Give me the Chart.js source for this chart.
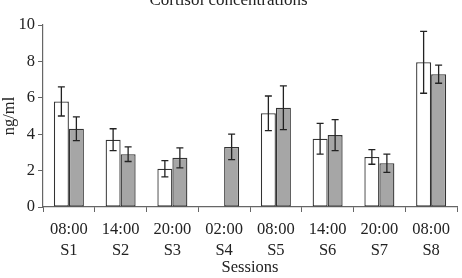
<!DOCTYPE html>
<html>
<head>
<meta charset="utf-8">
<script src="https://cdn.jsdelivr.net/npm/chart.js@4"></script>
<style>
  html, body { margin: 0; padding: 0; background: #fff; }
  #wrap { width: 462px; height: 278px; }
</style>
</head>
<body>
<div id="wrap"><canvas id="myChart" width="462" height="278"></canvas></div>
<script>
// dati
const times = ['08:00', '14:00', '20:00', '02:00', '08:00', '14:00', '20:00', '08:00'];
const sessions = ['S1', 'S2', 'S3', 'S4', 'S5', 'S6', 'S7', 'S8'];
const whiteVals = [5.8, 3.7, 2.1, null, 5.15, 3.75, 2.75, 7.95];
const whiteErr = [0.8, 0.6, 0.45, null, 0.95, 0.85, 0.4, 1.7];
const grayVals = [4.3, 2.9, 2.7, 3.3, 5.45, 3.95, 2.4, 7.3];
const grayErr = [0.65, 0.4, 0.55, 0.7, 1.2, 0.85, 0.5, 0.5];

const labels = times.map((t, i) => [t, sessions[i]]);
const serif = "'Liberation Serif', 'DejaVu Serif', serif";
const ink = '#222';

// barre di errore
const errorBars = {
    id: 'errorBars',
    afterDatasetsDraw(chart) {
        const ctx = chart.ctx;
        const y = chart.scales.y;
        ctx.save();
        ctx.strokeStyle = '#222';
        ctx.lineWidth = 1.3;
        chart.data.datasets.forEach((ds, di) => {
            const meta = chart.getDatasetMeta(di);
            meta.data.forEach((bar, i) => {
                const v = ds.data[i], e = ds.errors[i];
                if (v == null || e == null) return;
                const top = y.getPixelForValue(v + e);
                const bot = y.getPixelForValue(v - e);
                const x = bar.x, w = 3.5;
                ctx.beginPath();
                ctx.moveTo(x, top); ctx.lineTo(x, bot);
                ctx.moveTo(x - w, top); ctx.lineTo(x + w, top);
                ctx.moveTo(x - w, bot); ctx.lineTo(x + w, bot);
                ctx.stroke();
            });
        });
        ctx.restore();
    }
};

const data = {
    labels: labels,
    datasets: [{
        label: 'A',
        data: whiteVals,
        errors: whiteErr,
        backgroundColor: '#ffffff',
        borderColor: '#333',
        borderWidth: 1.3,
        borderSkipped: false
    }, {
        label: 'B',
        data: grayVals,
        errors: grayErr,
        backgroundColor: '#a6a6a6',
        borderColor: '#333',
        borderWidth: 1.3,
        borderSkipped: false
    }]
};

const config = {
    type: 'bar',
    data,
    options: {
        responsive: false,
        animation: false,
        layout: { padding: { left: 0, right: 5, top: 0, bottom: 0 } },
        datasets: { bar: { categoryPercentage: 0.58, barPercentage: 1 } },
        plugins: {
            legend: { display: false },
            tooltip: { enabled: false },
            title: {
                display: true,
                text: 'Cortisol concentrations',
                color: ink,
                font: { family: serif, size: 17, weight: 'normal' },
                padding: { top: -10, bottom: 14.6 }
            }
        },
        scales: {
            x: {
                grid: { drawOnChartArea: false, drawTicks: true, tickLength: 5, offset: true, color: '#666' },
                border: { display: true, color: '#666', width: 1.2 },
                ticks: { color: ink, font: { family: serif, size: 16.5, lineHeight: 1.22 }, padding: 8, maxRotation: 0 },
                title: { display: true, text: 'Sessions', color: ink, font: { family: serif, size: 16.5 }, padding: { top: 0, bottom: 0 } },
                afterFit(scale) { scale.height = 71; }
            },
            y: {
                min: 0,
                max: 10,
                ticks: { stepSize: 2, color: ink, font: { family: serif, size: 16.5 }, padding: 3 },
                grid: { drawOnChartArea: false, drawTicks: true, tickLength: 5, color: '#666' },
                border: { display: true, color: '#666', width: 1.2 },
                title: { display: true, text: 'ng/ml', color: ink, font: { family: serif, size: 16.5 }, padding: { top: 0, bottom: 0 } },
                afterFit(scale) { scale.width = 43; }
            }
        }
    },
    plugins: [errorBars]
};

const myChart = new Chart(document.getElementById('myChart'), config);
</script>
</body>
</html>
